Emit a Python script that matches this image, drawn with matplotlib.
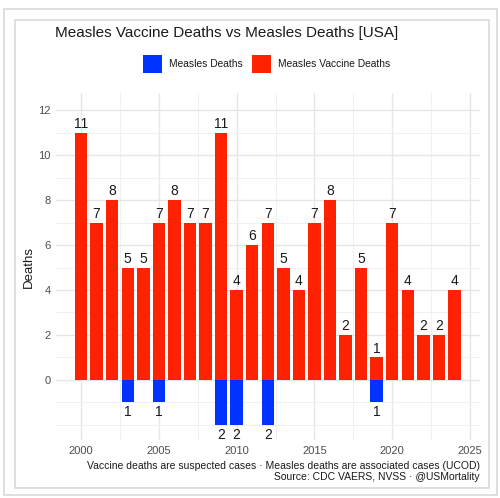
import matplotlib
matplotlib.use("Agg")
import matplotlib.pyplot as plt
from matplotlib.patches import Rectangle
from matplotlib.ticker import MultipleLocator

plt.rcParams["font.family"] = ["Liberation Sans", "DejaVu Sans"]

years = list(range(2000, 2025))
vaccine_deaths = [11, 7, 8, 5, 5, 7, 8, 7, 7, 11, 4, 6, 7, 5, 4, 7, 8, 2, 5, 1, 7, 4, 2, 2, 4]
measles_years = [2003, 2005, 2009, 2010, 2012, 2019]
measles_deaths = [1, 1, 2, 2, 2, 1]

RED = "#ff2200"
BLUE = "#0033ff"
W, H = 500, 498

fig = plt.figure(figsize=(W / 100, H / 100), dpi=100)


def px(x, y):
    return x / W, 1 - y / H


# outer and inner frames
for (x0, y0, x1, y1) in [(4, 9, 497, 495), (15, 20, 489, 488)]:
    fx0, fy1 = px(x0, y0)
    fx1, fy0 = px(x1, y1)
    fig.patches.append(Rectangle((fx0, fy0), fx1 - fx0, fy1 - fy0, transform=fig.transFigure,
                                 fill=False, edgecolor="#d9d9d9", lw=1.2))

l, t = px(56, 93)
r, b = px(480, 440)
ax = fig.add_axes([l, b, r - l, t - b])

ax.bar(years, vaccine_deaths, width=0.8, color=RED, zorder=3)
ax.bar(measles_years, [-v for v in measles_deaths], width=0.8, color=BLUE, zorder=3)

for x, v in zip(years, vaccine_deaths):
    ax.text(x, v + 0.08, str(v), ha="center", va="bottom", fontsize=10, color="#1a1a1a")
for x, v in zip(measles_years, measles_deaths):
    ax.text(x, -v - 0.12, str(v), ha="center", va="top", fontsize=10, color="#1a1a1a")

ax.set_xlim(1998.39, 2025.64)
ax.set_ylim(-2.67, 12.76)
ax.xaxis.set_major_locator(MultipleLocator(5))
ax.xaxis.set_minor_locator(MultipleLocator(2.5))
ax.yaxis.set_major_locator(MultipleLocator(2))
ax.yaxis.set_minor_locator(MultipleLocator(1))
ax.set_yticks([0, 2, 4, 6, 8, 10, 12])
ax.grid(which="major", color="#e6e6e6", lw=1.0, zorder=0)
ax.grid(which="minor", color="#f0f0f0", lw=0.7, zorder=0)
for s in ax.spines.values():
    s.set_visible(False)
ax.tick_params(which="both", length=0, labelsize=8, labelcolor="#4d4d4d", pad=4)
ax.set_ylabel("Deaths", fontsize=9.5, color="#1a1a1a", labelpad=2)

fig.text(*px(55, 33), "Measles Vaccine Deaths vs Measles Deaths [USA]", fontsize=11,
         ha="left", va="center", color="#1a1a1a")

# legend
for (x0, col, label) in [(143, BLUE, "Measles Deaths"), (252, RED, "Measles Vaccine Deaths")]:
    fx0, fy1 = px(x0, 55)
    fx1, fy0 = px(x0 + 19, 73)
    fig.patches.append(Rectangle((fx0, fy0), fx1 - fx0, fy1 - fy0, transform=fig.transFigure,
                                 facecolor=col, edgecolor="none"))
    fig.text(*px(x0 + 26, 64), label, fontsize=7.4, ha="left", va="center", color="#1a1a1a")

fig.text(*px(480, 466), "Vaccine deaths are suspected cases \u00b7 Measles deaths are associated cases (UCOD)",
         fontsize=7.5, ha="right", va="center", color="#1a1a1a")
fig.text(*px(480, 477), "Source: CDC VAERS, NVSS \u00b7 @USMortality",
         fontsize=7.5, ha="right", va="center", color="#1a1a1a")

fig.savefig("out.png", dpi=100)
